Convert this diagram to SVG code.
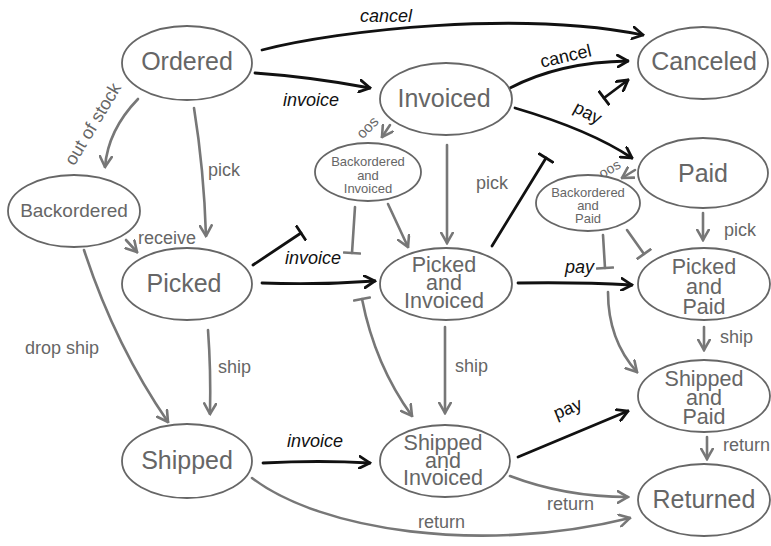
<svg xmlns="http://www.w3.org/2000/svg" width="771" height="546" viewBox="0 0 771 546">
<style>
.n{fill:#fff;stroke:#666;stroke-width:1.8}
.t{font-family:"Liberation Sans",Arial,sans-serif;fill:#666;text-anchor:middle}
.big{font-size:25px}
.mid{font-size:21.5px}
.sm{font-size:13px}
.b{fill:none;stroke:#111;stroke-width:2.8;stroke-linecap:round}
.g{fill:none;stroke:#777;stroke-width:2.6;stroke-linecap:round}
.lb{font-family:"Liberation Sans",Arial,sans-serif;font-size:18px;fill:#111}
.lg{font-family:"Liberation Sans",Arial,sans-serif;font-size:18px;fill:#666}
.it{font-style:italic}
</style>
<defs>
<marker id="ab" viewBox="0 0 13 14" refX="11.5" refY="7" markerWidth="13" markerHeight="14" markerUnits="userSpaceOnUse" orient="auto"><path d="M1,1 L11.5,7 L1,13" fill="none" stroke="#111" stroke-width="2.8" stroke-linecap="round"/></marker>
<marker id="ag" viewBox="0 0 13 14" refX="11.5" refY="7" markerWidth="13" markerHeight="14" markerUnits="userSpaceOnUse" orient="auto"><path d="M1,1 L11.5,7 L1,13" fill="none" stroke="#777" stroke-width="2.6" stroke-linecap="round"/></marker>
<marker id="tb" viewBox="0 0 4 18" refX="2" refY="9" markerWidth="4" markerHeight="18" markerUnits="userSpaceOnUse" orient="auto"><path d="M2,1 V17" stroke="#111" stroke-width="2.8" stroke-linecap="round"/></marker>
<marker id="tg" viewBox="0 0 4 18" refX="2" refY="9" markerWidth="4" markerHeight="18" markerUnits="userSpaceOnUse" orient="auto"><path d="M2,1 V17" stroke="#777" stroke-width="2.6" stroke-linecap="round"/></marker>
</defs>

<g id="connectors">
<path class="b" d="M262,50 C340,30 520,10 643,35" marker-end="url(#ab)"/>
<path class="b" d="M255,73 Q312,77 370,88" marker-end="url(#ab)"/>
<path class="b" d="M510,88 Q560,62 628,61" marker-end="url(#ab)"/>
<path class="b" d="M604,98 L628,80" marker-start="url(#tb)" marker-end="url(#ab)"/>
<path class="b" d="M515,108 Q590,130 632,158" marker-end="url(#ab)"/>
<path class="b" d="M492,246 L546,158" marker-end="url(#tb)"/>
<path class="b" d="M253,265 L301,233" marker-end="url(#tb)"/>
<path class="b" d="M262,283 Q320,285 375,281" marker-end="url(#ab)"/>
<path class="b" d="M518,283 Q580,282 632,285" marker-end="url(#ab)"/>
<path class="b" d="M263,463 Q320,460 370,463" marker-end="url(#ab)"/>
<path class="b" d="M518,457 L628,411" marker-end="url(#ab)"/>

<path class="g" d="M138,99 Q108,130 105,167" marker-end="url(#ag)"/>
<path class="g" d="M194,108 Q204,170 206,236" marker-end="url(#ag)"/>
<path class="g" d="M126,240 L137,252" marker-end="url(#ag)"/>
<path class="g" d="M84,250 Q115,345 168,422" marker-end="url(#ag)"/>
<path class="g" d="M208,330 Q211,370 210,414" marker-end="url(#ag)"/>
<path class="g" d="M252,478 C320,530 480,555 630,518" marker-end="url(#ag)"/>
<path class="g" d="M510,476 Q565,497 628,497" marker-end="url(#ag)"/>
<path class="g" d="M390,125 L382,137" marker-end="url(#ag)"/>
<path class="g" d="M447,145 L447,243" marker-end="url(#ag)"/>
<path class="g" d="M355,207 L352,253" marker-end="url(#tg)"/>
<path class="g" d="M388,204 L408,247" marker-end="url(#ag)"/>
<path class="g" d="M362,299 Q375,365 412,416" marker-start="url(#tg)" marker-end="url(#ag)"/>
<path class="g" d="M445,327 L445,413" marker-end="url(#ag)"/>
<path class="g" d="M635,170 L622,178" marker-end="url(#ag)"/>
<path class="g" d="M603,235 L605,268" marker-end="url(#tg)"/>
<path class="g" d="M627,230 L644,254" marker-end="url(#tg)"/>
<path class="g" d="M703,213 L703,240" marker-end="url(#ag)"/>
<path class="g" d="M608,292 Q608,340 637,372" marker-end="url(#ag)"/>
<path class="g" d="M704,327 L704,350" marker-end="url(#ag)"/>
<path class="g" d="M707,437 L707,459" marker-end="url(#ag)"/>

<text class="lb it" x="360" y="22">cancel</text>
<text class="lb it" x="283" y="106">invoice</text>
<text class="lb" text-anchor="middle" transform="translate(567,62) rotate(-13)">cancel</text>
<text class="lb" text-anchor="middle" transform="translate(585,118) rotate(28)">pay</text>
<text class="lb it" x="285" y="264">invoice</text>
<text class="lb it" x="565" y="273">pay</text>
<text class="lb it" x="287" y="447">invoice</text>
<text class="lb" text-anchor="middle" transform="translate(570,414) rotate(-22)">pay</text>

<text class="lg" text-anchor="middle" transform="translate(98,127) rotate(-59)">out of stock</text>
<text class="lg" x="208" y="176">pick</text>
<text class="lg" x="138" y="244">receive</text>
<text class="lg" x="25" y="354">drop ship</text>
<text class="lg" x="218" y="373">ship</text>
<text class="lg" x="418" y="528">return</text>
<text class="lg" x="547" y="510">return</text>
<text class="lg" x="476" y="189">pick</text>
<text class="lg" x="455" y="372">ship</text>
<text class="lg" x="724" y="236">pick</text>
<text class="lg" x="720" y="343">ship</text>
<text class="lg" x="723" y="451">return</text>
<text class="lg" style="font-size:15px" text-anchor="middle" transform="translate(371,131) rotate(-45)">oos</text>
<text class="lg" style="font-size:14px" text-anchor="middle" transform="translate(612,173) rotate(-30)">oos</text>
</g>

<g id="ordered"><ellipse class="n" cx="187" cy="63" rx="65" ry="37"/><text class="t big" x="187" y="70">Ordered</text></g>
<g id="canceled"><ellipse class="n" cx="703" cy="63" rx="65" ry="36"/><text class="t big" x="704" y="70">Canceled</text></g>
<g id="invoiced"><ellipse class="n" cx="446" cy="99" rx="66" ry="36"/><text class="t big" x="444" y="107">Invoiced</text></g>
<g id="paid"><ellipse class="n" cx="703" cy="173" rx="65" ry="35"/><text class="t big" x="703" y="182">Paid</text></g>
<g id="backordered-invoiced"><ellipse class="n" cx="368" cy="172" rx="53" ry="29"/><text class="t sm" x="368" y="166">Backordered<tspan x="368" dy="13.5">and</tspan><tspan x="368" dy="13.5">Invoiced</tspan></text></g>
<g id="backordered-paid"><ellipse class="n" cx="588" cy="203" rx="52" ry="28"/><text class="t sm" x="588" y="197">Backordered<tspan x="588" dy="13">and</tspan><tspan x="588" dy="13">Paid</tspan></text></g>
<g id="backordered"><ellipse class="n" cx="74" cy="211" rx="66" ry="36"/><text class="t" style="font-size:19px" x="74" y="217">Backordered</text></g>
<g id="picked"><ellipse class="n" cx="187" cy="284" rx="65" ry="36"/><text class="t big" x="184" y="292">Picked</text></g>
<g id="picked-invoiced"><ellipse class="n" cx="446" cy="284" rx="66" ry="36"/><text class="t mid" x="444" y="272">Picked<tspan x="444" dy="18">and</tspan><tspan x="444" dy="18">Invoiced</tspan></text></g>
<g id="picked-paid"><ellipse class="n" cx="704" cy="284" rx="66" ry="36"/><text class="t mid" x="704" y="274">Picked<tspan x="704" dy="20">and</tspan><tspan x="704" dy="20">Paid</tspan></text></g>
<g id="shipped-paid"><ellipse class="n" cx="704" cy="396" rx="66" ry="36"/><text class="t mid" x="704" y="386">Shipped<tspan x="704" dy="19">and</tspan><tspan x="704" dy="19">Paid</tspan></text></g>
<g id="shipped"><ellipse class="n" cx="187" cy="461" rx="65" ry="37"/><text class="t big" x="187" y="469">Shipped</text></g>
<g id="shipped-invoiced"><ellipse class="n" cx="445" cy="461" rx="65" ry="36"/><text class="t mid" x="443" y="450">Shipped<tspan x="443" dy="17.5">and</tspan><tspan x="443" dy="17.5">Invoiced</tspan></text></g>
<g id="returned"><ellipse class="n" cx="704" cy="500" rx="66" ry="36"/><text class="t big" x="704" y="508">Returned</text></g>
</svg>
